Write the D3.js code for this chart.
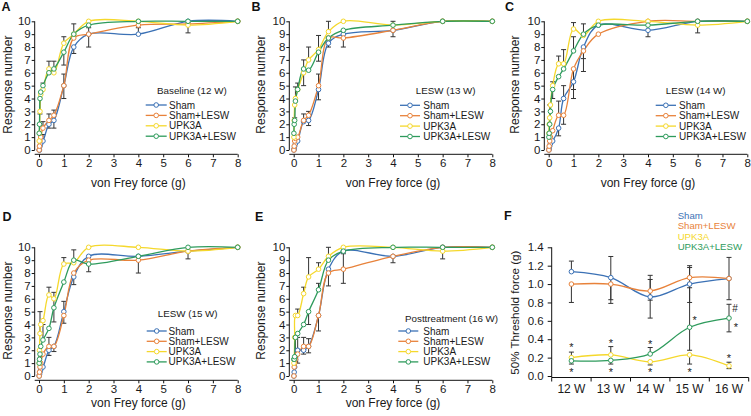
<!DOCTYPE html>
<html><head><meta charset="utf-8">
<script src="https://cdn.jsdelivr.net/npm/d3@7"></script>
<style>
body{margin:0;background:#fff;}
svg{display:block;font-family:"Liberation Sans",Arial,Helvetica,sans-serif;}
</style></head><body>
<svg id="chart" width="751" height="416"></svg>
<script>
// ---------------- DATA ----------------
const force = [0.008, 0.02, 0.04, 0.07, 0.16, 0.4, 0.6, 1, 1.4, 2, 4, 6, 8];
const groups = ["Sham", "Sham+LESW", "UPK3A", "UPK3A+LESW"];
const groupColors = ["#3b71b5", "#e8823a", "#f5d82c", "#2e9b5c"];
const forceTicks = [0, 1, 2, 3, 4, 5, 6, 7, 8];
const responseTicks = [0, 1, 2, 3, 4, 5, 6, 7, 8, 9, 10];

// Panel A  Baseline (12 W)
const shamA      = [0, 0, 0.3, 0.5, 0.7, 2, 2.3, 5, 8, 9, 9, 10, 10];
const shamLeswA  = [0, 0.3, 0.7, 1, 1.7, 2.3, 2.7, 5, 8.7, 9, 9.7, 9.8, 10];
const upkA       = [0.7, 1.3, 3, 4.3, 4.7, 6.3, 6, 8.3, 9, 10, 10, 9.7, 10];
const upkLeswA   = [1.3, 2, 4, 4.5, 5, 6, 6.3, 7.6, 9, 9.7, 10, 10, 10];
const errA = [[3,2,-1.2],[3,4,0.2],[1,4,0.5],[0,4,0.5],[2,5,0.6],[1,5,0.5],[0,5,-0.3],
              [3,6,0.6],[1,6,0.4],[0,6,-0.6],[2,7,0.5],[0,7,0.9],[1,7,-1],[3,7,-1],
              [3,8,0.8],[0,8,-0.5],[0,9,0.5],[1,9,-1],[0,10,0.5],[2,11,-0.6]];

// Panel B  LESW (13 W)
const shamB      = [0, 0.1, 0.3, 0.5, 0.7, 2.2, 2.3, 4.7, 8.3, 9, 9.3, 10, 10];
const shamLeswB  = [0, 0.3, 0.7, 0.9, 1, 2.3, 2.7, 5, 8.7, 8.7, 9.3, 10, 10];
const upkB       = [1, 2.3, 3.5, 4, 4.7, 6, 7, 7.8, 9.2, 10, 9.7, 10, 10];
const upkLeswB   = [1.3, 2, 2.3, 3.8, 4.7, 6.3, 6.2, 7.6, 8.7, 9.3, 9.7, 10, 10];
const errB = [[3,3,1.1],[2,2,-1],[3,4,0.5],[3,5,0.7],[2,5,-1],[1,5,0.5],[2,6,1],[1,6,0.3],
              [0,6,-0.4],[2,7,1.1],[3,7,-0.7],[1,7,0.9],[0,7,-0.8],[2,8,0.8],[0,8,-0.3],
              [1,9,-0.7],[3,10,0.3],[1,10,-0.5]];

// Panel C  LESW (14 W)
const shamC      = [0, 0.1, 0.3, 0.5, 0.7, 1.7, 4, 5.3, 8, 9.7, 9.3, 10, 10];
const shamLeswC  = [0, 0.3, 0.7, 1, 1.5, 2.7, 2.7, 6.3, 7.7, 9, 10, 10, 10];
const upkC       = [1.3, 2, 2.5, 3.5, 5, 6.7, 6.7, 9.4, 8.9, 10, 10, 9.7, 10];
const upkLeswC   = [1, 1.3, 2, 3, 4.7, 5.7, 6.3, 7.7, 9, 9.7, 9.7, 10, 10];
const errC = [[2,2,1],[2,4,0.3],[3,4,-0.7],[2,5,0.6],[1,5,1.1],[0,5,-0.6],[2,6,1.1],
              [0,6,1],[1,6,-0.7],[2,7,0.5],[3,7,1.1],[0,7,-0.6],[1,7,-2.3],[3,8,0.8],
              [0,8,-0.9],[1,8,-1.6],[0,10,-0.5],[2,11,-0.6]];

// Panel D  LESW (15 W)
const shamD      = [0, 0.1, 0.3, 0.5, 0.7, 2, 2.3, 5, 7.7, 9.3, 9.3, 9.7, 10];
const shamLeswD  = [0, 0.3, 0.7, 1, 1.7, 2.3, 2.3, 4.7, 8, 9, 9, 9.7, 10];
const upkD       = [1, 2, 3.3, 4, 4.3, 6.3, 6, 8.7, 8.8, 10, 10, 9.7, 10];
const upkLeswD   = [1, 1.3, 1.7, 2.3, 2.8, 3.7, 5.3, 7.3, 9, 8.7, 9.3, 10, 10];
const errD = [[2,2,1.7],[3,4,1.2],[3,3,-0.8],[2,5,0.6],[1,5,0.7],[0,5,-0.4],[3,6,1.2],
              [3,6,-1.1],[0,6,-0.4],[2,7,0.5],[0,7,0.8],[1,7,-0.6],[3,8,0.8],[0,8,-0.6],
              [3,9,-0.6],[1,10,-1],[1,11,-0.6]];

// Panel E  Posttreatment (16 W)
const shamE      = [0, 0.3, 0.7, 1.3, 2, 2, 2.3, 4.7, 8.3, 9.7, 9.3, 10, 10];
const shamLeswE  = [0, 0.7, 1, 1.3, 1.7, 2.3, 2.3, 4.7, 8, 8.3, 9.3, 10, 10];
const upkE       = [1, 1.3, 3, 4.7, 4.7, 6.4, 7.7, 8.3, 9.3, 10, 10, 9.7, 10];
const upkLeswE   = [1.3, 1.3, 1.5, 3, 3.3, 4, 5, 6.7, 9, 9.7, 10, 10, 10];
const errE = [[2,4,0.5],[3,3,-1.6],[1,4,1.3],[0,4,-1],[2,5,0.5],[1,5,0.7],[0,5,-0.3],
              [2,6,1.5],[3,6,-1],[1,6,0.6],[1,6,-0.5],[2,7,0.5],[3,7,0.5],[1,7,-1.2],
              [3,8,1],[0,8,-1.3],[1,9,1.2],[1,9,-1.1],[1,10,-0.5],[2,11,-0.6]];

// Panel F  50% threshold
const weeks = ["12 W", "13 W", "14 W", "15 W", "16 W"];
const thrSham     = [1.135, 1.07, 0.86, 1.0, 1.06];
const thrShamLesw = [1.0, 1.0, 0.925, 1.07, 1.06];
const thrUpk      = [0.2, 0.23, 0.155, 0.23, 0.11];
const thrUpkLesw  = [0.165, 0.17, 0.24, 0.53, 0.63];
const thrErr = [[0,0,0.115],[1,0,-0.2],[2,0,0.06],[3,0,-0.035],
                [0,1,0.23],[1,1,-0.21],[0,1,-0.24],[2,1,0.09],[3,1,-0.04],
                [1,2,0.17],[0,2,0.19],[0,2,-0.23],[1,2,-0.1],[3,2,0.07],[2,2,-0.035],
                [1,3,0.13],[0,3,0.18],[0,3,-0.2],[3,3,0.43],[3,3,-0.25],[2,3,-0.1],
                [1,4,0.23],[0,4,-0.23],[3,4,0.15],[3,4,-0.15],[2,4,0.04],[2,4,-0.03]];
const thrMarks = [["*",0,0.335,0],["*",0,0.07,0],["*",1,0.385,0],["*",1,0.07,0],
                  ["*",2,0.37,0],["*",2,0.07,0],["*",3,0.63,5],["*",3,0.07,0],
                  ["#",4,0.736,6],["*",4,0.56,7],["*",4,0.215,0]];
const thrTicks = [0, 0.2, 0.4, 0.6, 0.8, 1.0, 1.2, 1.4];

// ---------------- DRAW ----------------
const svg = d3.select("#chart");
const curve = d3.curveCatmullRom.alpha(0.5);
const ERR = "#333";
const TICK_FS = 11.5;

const panels = [
  {letter:"A", lx:1.5, ly:11, title:"Baseline (12 W)", series:[shamA,shamLeswA,upkA,upkLeswA], err:errA,
   ax:34.7, x0:39, x1:237.7, yTop:21.3, yBot:150, axY:154.3, labX:7.3, xlabY:187,
   leg:{tx:157, ty:93.5, lx0:145.7, lx1:166.7, tx2:169, ey:105, dy:10.4}},
  {letter:"B", lx:251.5, ly:11, title:"LESW (13 W)", series:[shamB,shamLeswB,upkB,upkLeswB], err:errB,
   ax:289.3, x0:293.7, x1:492.3, yTop:21.3, yBot:150, axY:154.3, labX:260.7, xlabY:187,
   leg:{tx:415.7, ty:93.5, lx0:400, lx1:420, tx2:423.3, ey:105.3, dy:10.4}},
  {letter:"C", lx:505, ly:11, title:"LESW (14 W)", series:[shamC,shamLeswC,upkC,upkLeswC], err:errC,
   ax:544.3, x0:548.7, x1:747.3, yTop:21.3, yBot:150, axY:154.3, labX:515, xlabY:187,
   leg:{tx:665.7, ty:93.5, lx0:655.7, lx1:676, tx2:679, ey:105.3, dy:10.4}},
  {letter:"D", lx:2.5, ly:221, title:"LESW (15 W)", series:[shamD,shamLeswD,upkD,upkLeswD], err:errD,
   ax:34.7, x0:39, x1:237.7, yTop:247.3, yBot:376, axY:380.3, labX:7.3, xlabY:407.2,
   leg:{tx:157.7, ty:316.5, lx0:146.7, lx1:166.7, tx2:168.5, ey:331, dy:10.3}},
  {letter:"E", lx:255, ly:221, title:"Posttreatment (16 W)", series:[shamE,shamLeswE,upkE,upkLeswE], err:errE,
   ax:289.3, x0:293.7, x1:492.3, yTop:247.3, yBot:376, axY:380.3, labX:260.7, xlabY:407.2,
   leg:{tx:405, ty:321.5, lx0:398.3, lx1:418.3, tx2:423.3, ey:331, dy:10.3}}
];

function styleAxis(g, fs){
  g.selectAll("path.domain").attr("stroke","#111").attr("stroke-width",1);
  g.selectAll(".tick line").attr("stroke","#111");
  g.selectAll("text").attr("font-size",fs).attr("fill","#1a1a1a").attr("font-family",null);
}

panels.forEach(p => {
  const x = d3.scaleLinear().domain([0,8]).range([p.x0,p.x1]);
  const y = d3.scaleLinear().domain([0,10]).range([p.yBot,p.yTop]);
  const g = svg.append("g");

  // axes
  const ya = g.append("g").attr("transform",`translate(${p.ax},0)`)
    .call(d3.axisLeft(y).tickValues(responseTicks).tickSize(3).tickPadding(1).tickSizeOuter(0));
  ya.select("path.domain").attr("d",`M0,${p.yBot}V${p.yTop}`);
  styleAxis(ya, TICK_FS);
  const xa = g.append("g").attr("transform",`translate(0,${p.axY})`)
    .call(d3.axisBottom(x).tickValues(forceTicks).tickSize(3).tickPadding(2).tickSizeOuter(0));
  xa.select("path.domain").attr("d",`M${p.ax},0H${p.x1}`);
  styleAxis(xa, TICK_FS);

  // axis titles
  g.append("text").attr("transform",`translate(${p.labX + 4.3},${(p.yTop+p.yBot)/2 - 1}) rotate(-90)`)
    .attr("text-anchor","middle").attr("font-size",12).attr("fill","#1a1a1a").text("Response number");
  g.append("text").attr("x",(p.x0+p.x1)/2).attr("y",p.xlabY).attr("text-anchor","middle")
    .attr("font-size",12).attr("fill","#1a1a1a").text("von Frey force (g)");

  // panel letter
  svg.append("text").attr("x",p.lx).attr("y",p.ly).attr("font-size",12.5).attr("font-weight","bold")
    .attr("fill","#111").text(p.letter);

  // error bars
  const eg = g.append("g").attr("stroke",ERR).attr("stroke-width",1);
  p.err.forEach(([gi, fi, e]) => {
    const v = p.series[gi][fi];
    const xx = x(force[fi]);
    eg.append("line").attr("x1",xx).attr("x2",xx).attr("y1",y(v)).attr("y2",y(v+e));
    eg.append("line").attr("x1",xx-2.5).attr("x2",xx+2.5).attr("y1",y(v+e)).attr("y2",y(v+e));
  });

  // lines
  const line = d3.line().x((d,i)=>x(force[i])).y(d=>y(d)).curve(curve);
  p.series.forEach((s, gi) => {
    g.append("path").attr("d",line(s)).attr("fill","none")
      .attr("stroke",groupColors[gi]).attr("stroke-width",1.3);
  });
  p.series.forEach((s, gi) => {
    g.append("g").selectAll("circle").data(s).join("circle")
      .attr("cx",(d,i)=>x(force[i])).attr("cy",d=>y(d)).attr("r",2.3)
      .attr("fill","#fff").attr("stroke",groupColors[gi]).attr("stroke-width",1);
  });

  // legend
  const L = p.leg;
  g.append("text").attr("x",L.tx).attr("y",L.ty).attr("font-size",9.8).attr("fill","#1a1a1a").text(p.title);
  groups.forEach((name, gi) => {
    const yy = L.ey + gi*L.dy;
    g.append("line").attr("x1",L.lx0).attr("x2",L.lx1).attr("y1",yy).attr("y2",yy)
      .attr("stroke",groupColors[gi]).attr("stroke-width",1.3);
    g.append("circle").attr("cx",(L.lx0+L.lx1)/2).attr("cy",yy).attr("r",2.3)
      .attr("fill","#fff").attr("stroke",groupColors[gi]);
    g.append("text").attr("x",L.tx2).attr("y",yy+3.5).attr("font-size",10).attr("fill","#1a1a1a").text(name);
  });
});

// ---------- Panel F ----------
(function(){
  const ax = 551.7, xEnd = 748.7, yBot = 376, yTop = 247.3, axY = 377.5;
  const x = d3.scaleBand().domain(weeks).range([ax, xEnd]);
  const y = d3.scaleLinear().domain([0,1.4]).range([yBot,yTop]);
  const g = svg.append("g");
  const ya = g.append("g").attr("transform",`translate(${ax},0)`)
    .call(d3.axisLeft(y).tickValues(thrTicks).tickFormat(d3.format(".1f")).tickSize(4).tickPadding(4).tickSizeOuter(0));
  ya.select("path.domain").attr("d",`M0,${axY}V${yTop}`);
  styleAxis(ya, TICK_FS);
  const xa = g.append("g").attr("transform",`translate(0,${axY})`)
    .call(d3.axisBottom(x).tickSize(0).tickPadding(7));
  xa.select("path.domain").attr("d",`M${ax},0H${xEnd}`);
  styleAxis(xa, 12);
  // boundary ticks
  const bounds = weeks.map(w => x(w)).concat([xEnd]);
  xa.selectAll("line.bt").data(bounds).join("line").attr("class","bt")
    .attr("x1",d=>d).attr("x2",d=>d).attr("y1",0).attr("y2",4).attr("stroke","#111");

  g.append("text").attr("transform",`translate(${519},${(yTop+yBot)/2 + 1}) rotate(-90)`)
    .attr("text-anchor","middle").attr("font-size",11.6).attr("fill","#1a1a1a").text("50% Threshold force (g)");
  svg.append("text").attr("x",504).attr("y",220).attr("font-size",12.5).attr("font-weight","bold").attr("fill","#111").text("F");

  const series = [thrSham, thrShamLesw, thrUpk, thrUpkLesw];
  const cx = w => x(w) + x.bandwidth()/2;
  const eg = g.append("g").attr("stroke",ERR).attr("stroke-width",1);
  thrErr.forEach(([gi, wi, e]) => {
    const v = series[gi][wi], xx = cx(weeks[wi]);
    eg.append("line").attr("x1",xx).attr("x2",xx).attr("y1",y(v)).attr("y2",y(v+e));
    eg.append("line").attr("x1",xx-2.5).attr("x2",xx+2.5).attr("y1",y(v+e)).attr("y2",y(v+e));
  });
  const line = d3.line().x((d,i)=>cx(weeks[i])).y(d=>y(d)).curve(curve);
  series.forEach((s, gi) => g.append("path").attr("d",line(s)).attr("fill","none")
    .attr("stroke",groupColors[gi]).attr("stroke-width",1.3));
  series.forEach((s, gi) => g.append("g").selectAll("circle").data(s).join("circle")
    .attr("cx",(d,i)=>cx(weeks[i])).attr("cy",d=>y(d)).attr("r",2.3)
    .attr("fill","#fff").attr("stroke",groupColors[gi]));

  thrMarks.forEach(([sym, wi, v, dx]) => {
    g.append("text").attr("x",cx(weeks[wi]) + dx).attr("y", y(v) + (sym==="*"?6:3.5))
      .attr("text-anchor","middle").attr("font-size",sym==="*"?11:10).attr("fill","#222").text(sym);
  });

  // legend (coloured labels)
  groups.forEach((name, gi) => {
    g.append("text").attr("x",677.7).attr("y",218.5 + gi*10.5).attr("font-size",9.6)
      .attr("fill",groupColors[gi]).text(name);
  });
})();
</script>
</body></html>
